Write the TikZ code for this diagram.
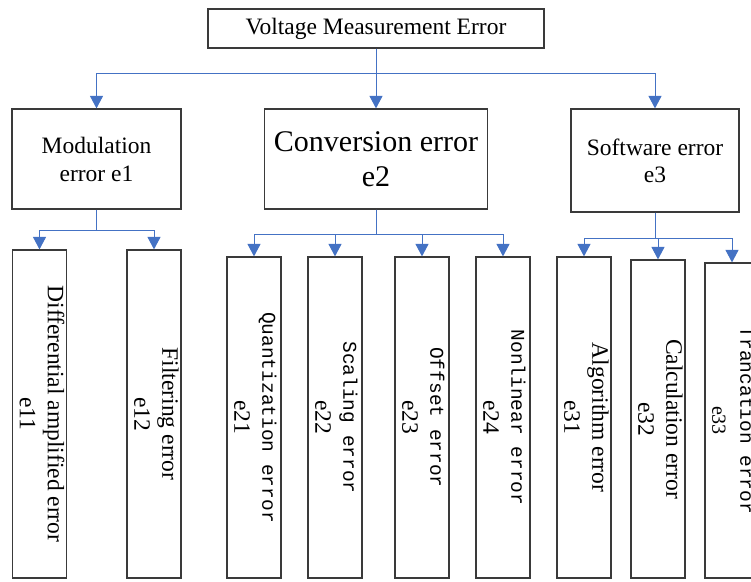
\documentclass[tikz,border=0pt]{standalone}
\usepackage{fontspec}
\setmainfont{Liberation Serif}
\setmonofont{Liberation Mono}
\usepackage{xcolor}
\usetikzlibrary{positioning,calc,arrows.meta}

\definecolor{linkblue}{HTML}{4472C4}
\definecolor{boxgray}{HTML}{3A3A3A}
\newcommand{\leaftext}[2]{\makebox[0pt]{\rotatebox{-90}{\begin{tabular}{@{}c@{}}#1\\#2\end{tabular}}}}
\newcommand{\monoline}{\fontsize{19.5}{28}\ttfamily}

\begin{document}
\begin{tikzpicture}[x=1pt, y=-1pt,
		box/.style={draw=boxgray, line width=1.2pt, inner sep=0pt, align=center},
		leaf/.style={box, minimum width=54pt, font=\fontsize{23.5}{28}\selectfont},
		link/.style={draw=linkblue, line width=1pt},
		arr/.style={link, -{Triangle[width=13pt,length=12.5pt]}}]
			\useasboundingbox (0,0) rectangle (751,581);
			% top level
			\node [box, minimum width=336pt, minimum height=39pt, font=\fontsize{23.5}{28}\selectfont] (vme) at (376,28.5) {Voltage Measurement Error};
			\node [box, minimum width=169pt, minimum height=100pt, font=\fontsize{23.5}{28}\selectfont] (mod) at (96.5,159) {Modulation\\error e1};
			\node [box, minimum width=223pt, minimum height=100pt, font=\fontsize{30}{35}\selectfont] (conv) at (376,159) {Conversion error\\e2};
			\node [box, minimum width=168pt, minimum height=103pt, font=\fontsize{23.5}{27}\selectfont] (soft) at (655,160.5) {Software error\\e3};
			% leaves
			\node [leaf, minimum height=328pt] (e11) at (39.5,414) {\leaftext{Differential amplified error}{e11}};
			\node [leaf, minimum height=328pt] (e12) at (154,414) {\leaftext{Filtering error}{e12}};
			\node [leaf, minimum height=321pt] (e21) at (254,417.5) {\leaftext{\monoline Quantization error}{e21}};
			\node [leaf, minimum height=321pt] (e22) at (335,417.5) {\leaftext{\monoline Scaling error}{e22}};
			\node [leaf, minimum height=321pt] (e23) at (422,417.5) {\leaftext{\monoline Offset error}{e23}};
			\node [leaf, minimum height=321pt] (e24) at (503,417.5) {\leaftext{\monoline Nonlinear error}{e24}};
			\node [leaf, minimum height=321pt] (e31) at (584,417.5) {\leaftext{Algorithm error}{e31}};
			\node [leaf, minimum height=318pt] (e32) at (658,419) {\leaftext{Calculation error}{e32}};
			\node [leaf, minimum height=315pt] (e33) at (732,420.5) {\leaftext{\monoline Trancation error}{\fontsize{20}{28}\selectfont e33}};
			% branch points
			\coordinate (b0) at ([yshift=-25pt]vme.south);
			\coordinate (b1) at ([yshift=-21pt]mod.south);
			\coordinate (b2) at ([yshift=-25pt]conv.south);
			\coordinate (b3) at ([yshift=-26pt]soft.south);
			% connectors
			\draw [arr] (vme.south) -- (b0) -| (mod.north);
			\draw [arr] (vme.south) -- (conv.north);
			\draw [arr] (vme.south) -- (b0) -| (soft.north);
			\draw [arr] (mod.south) -- (b1) -| (e11.north);
			\draw [arr] (mod.south) -- (b1) -| (e12.north);
			\draw [arr] (conv.south) -- (b2) -| (e21.north);
			\draw [arr] (conv.south) -- (b2) -| (e22.north);
			\draw [arr] (conv.south) -- (b2) -| (e23.north);
			\draw [arr] (conv.south) -- (b2) -| (e24.north);
			\draw [arr] (soft.south) -- (b3) -| (e31.north);
			\draw [arr] (soft.south) -- (b3) -| (e32.north);
			\draw [arr] (soft.south) -- (b3) -| (e33.north);
		\end{tikzpicture}
\end{document}
